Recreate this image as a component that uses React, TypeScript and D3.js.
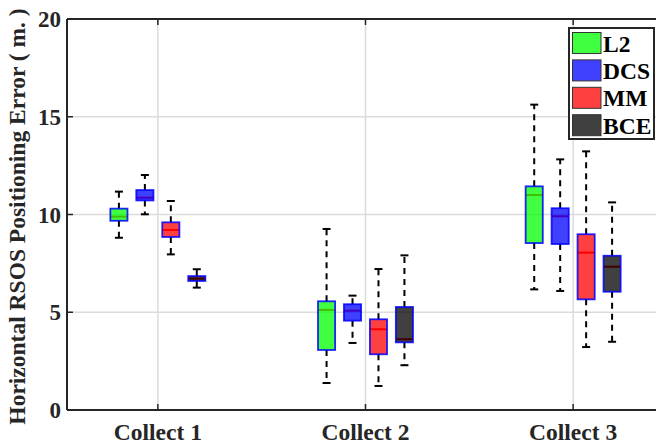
import React from "react";
import * as d3 from "d3";

const categories = ["Collect 1", "Collect 2", "Collect 3"];
const seriesNames = ["L2", "DCS", "MM", "BCE"];
const seriesColors = ["#00ff00", "#0000ff", "#ff0000", "#000000"];
const yTicks = [0, 5, 10, 15, 20];

// per-series stats for Collect 1, 2, 3
const L2Low = [8.81, 1.38, 6.17];
const L2Q1 = [9.68, 3.07, 8.54];
const L2Med = [9.89, 5.12, 11.0];
const L2Q3 = [10.3, 5.56, 11.44];
const L2High = [11.17, 9.26, 15.62];

const DCSLow = [10.01, 3.43, 6.09];
const DCSQ1 = [10.72, 4.57, 8.49];
const DCSMed = [10.86, 5.08, 9.91];
const DCSQ3 = [11.25, 5.41, 10.32];
const DCSHigh = [12.02, 5.85, 12.82];

const MMLow = [7.96, 1.23, 3.22];
const MMQ1 = [8.85, 2.85, 5.66];
const MMMed = [9.21, 4.13, 8.05];
const MMQ3 = [9.6, 4.64, 8.99];
const MMHigh = [10.69, 7.21, 13.23];

const BCELow = [6.26, 2.29, 3.49];
const BCEQ1 = [6.6, 3.46, 6.05];
const BCEMed = [6.72, 3.62, 7.33];
const BCEQ3 = [6.85, 5.27, 7.89];
const BCEHigh = [7.2, 7.91, 10.62];

const stats = [
  { low: L2Low, q1: L2Q1, med: L2Med, q3: L2Q3, high: L2High },
  { low: DCSLow, q1: DCSQ1, med: DCSMed, q3: DCSQ3, high: DCSHigh },
  { low: MMLow, q1: MMQ1, med: MMMed, q3: MMQ3, high: MMHigh },
  { low: BCELow, q1: BCEQ1, med: BCEMed, q3: BCEQ3, high: BCEHigh },
];

const W = 656;
const H = 444;
const left = 67;
const right = 664;
const top = 19;
const bottom = 410;

export default function App() {
  const x = d3.scaleLinear().domain([-1, 22]).range([left, right]);
  const y = d3.scaleLinear().domain([0, 20]).range([bottom, top]);
  const groupCenter = (g: number) => 2.5 + g * 8;
  const boxPos = (g: number, s: number) => groupCenter(g) - 1.5 + s;
  const halfW = 0.33;
  const capHalf = 4;
  const font = "'Liberation Serif', 'Times New Roman', serif";
  const axisColor = "#262626";

  const boxes: React.ReactNode[] = [];
  categories.forEach((_, g) => {
    stats.forEach((st, s) => {
      const cx = x(boxPos(g, s));
      const x0 = x(boxPos(g, s) - halfW);
      const x1 = x(boxPos(g, s) + halfW);
      const key = `${g}-${s}`;
      boxes.push(
        <g key={key}>
          <line x1={cx} x2={cx} y1={y(st.q3[g])} y2={y(st.high[g])} stroke="#000" strokeWidth={2} strokeDasharray="6,5" />
          <line x1={cx} x2={cx} y1={y(st.q1[g])} y2={y(st.low[g])} stroke="#000" strokeWidth={2} strokeDasharray="6,5" />
          <line x1={cx - capHalf} x2={cx + capHalf} y1={y(st.high[g])} y2={y(st.high[g])} stroke="#000" strokeWidth={2} />
          <line x1={cx - capHalf} x2={cx + capHalf} y1={y(st.low[g])} y2={y(st.low[g])} stroke="#000" strokeWidth={2} />
          <line x1={x0} x2={x1} y1={y(st.med[g])} y2={y(st.med[g])} stroke="#ff0000" strokeWidth={2} />
          <rect x={x0} y={y(st.q3[g])} width={x1 - x0} height={y(st.q1[g]) - y(st.q3[g])} fill={seriesColors[s]} fillOpacity={0.75} stroke="#0000ff" strokeOpacity={0.85} strokeWidth={1.8} />
        </g>
      );
    });
  });

  return (
    <svg width={W} height={H} style={{ position: "absolute", left: 0, top: 0, background: "#fff" }} fontFamily={font}>
      <rect x={0} y={0} width={W} height={H} fill="#fff" />
      {/* grid */}
      {yTicks.filter((t) => t > 0 && t < 20).map((t) => (
        <line key={"gy" + t} x1={left} x2={right} y1={y(t)} y2={y(t)} stroke="#dcdcdc" strokeWidth={1.5} />
      ))}
      {categories.map((c, g) => (
        <line key={"gx" + c} x1={x(groupCenter(g))} x2={x(groupCenter(g))} y1={top} y2={bottom} stroke="#dcdcdc" strokeWidth={1.5} />
      ))}
      {boxes}
      {/* axes frame */}
      <line x1={left} x2={right} y1={bottom} y2={bottom} stroke={axisColor} strokeWidth={2} />
      <line x1={left} x2={right} y1={top} y2={top} stroke={axisColor} strokeWidth={2} />
      <line x1={left} x2={left} y1={top} y2={bottom} stroke={axisColor} strokeWidth={2} />
      {yTicks.map((t) => (
        <g key={"yt" + t}>
          <line x1={left} x2={left + 6} y1={y(t)} y2={y(t)} stroke={axisColor} strokeWidth={1.5} />
          <text x={61} y={y(t)} dy="0.35em" textAnchor="end" fontSize={23} fontWeight="bold" fill="#262626">{t}</text>
        </g>
      ))}
      {categories.map((c, g) => (
        <g key={"xt" + c}>
          <line x1={x(groupCenter(g))} x2={x(groupCenter(g))} y1={bottom} y2={bottom - 6} stroke={axisColor} strokeWidth={1.5} />
          <line x1={x(groupCenter(g))} x2={x(groupCenter(g))} y1={top} y2={top + 6} stroke={axisColor} strokeWidth={1.5} />
          <text x={x(groupCenter(g))} y={440} textAnchor="middle" fontSize={23.5} fontWeight="bold" fill="#262626">{c}</text>
        </g>
      ))}
      <text transform={`translate(25,${(top + bottom) / 2 + 2}) rotate(-90)`} textAnchor="middle" fontSize={23.5} fontWeight="bold" fill="#262626">
        Horizontal RSOS Positioning Error ( m. )
      </text>
      {/* legend */}
      <g>
        <rect x={569} y={28} width={85} height={111} fill="#fff" stroke="#262626" strokeWidth={2} />
        {seriesNames.map((n, i) => (
          <g key={n}>
            <rect x={572.5} y={32.5 + i * 27.4} width={28.5} height={21} fill={seriesColors[i]} fillOpacity={0.75} stroke="#333" strokeWidth={1} />
            <text x={603} y={51.5 + i * 27.4} fontSize={23.5} fontWeight="bold" fill="#000">{n}</text>
          </g>
        ))}
      </g>
    </svg>
  );
}
